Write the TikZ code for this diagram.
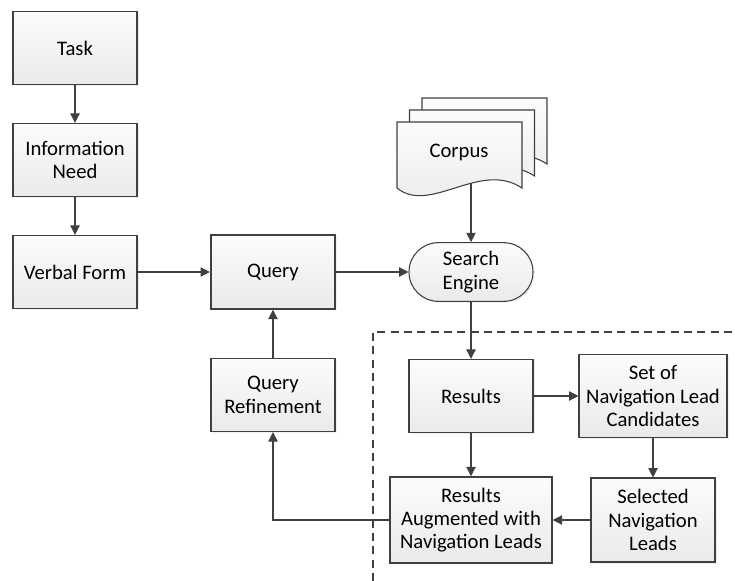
\documentclass[tikz,border=0pt]{standalone}
\usepackage{fontspec}
\setmainfont{Carlito}
\usetikzlibrary{arrows.meta, shadows}
\definecolor{linegray}{RGB}{64, 64, 64}
\definecolor{boxgray}{RGB}{234, 234, 234}
\definecolor{boxtop}{RGB}{252, 252, 252}

\tikzset{
  procbox/.style={draw=linegray, line width=0.8pt, top color=boxtop, bottom color=boxgray,
    align=center, minimum width=93pt, minimum height=55pt, inner sep=2pt,
    drop shadow={opacity=0.12, shadow xshift=1.2pt, shadow yshift=-1.2pt}},
  keybox/.style={procbox, line width=1.6pt},
  flow/.style={draw=linegray, line width=0.8pt, -{Triangle[length=7pt, width=7pt]}},
}

\begin{document}
\begin{tikzpicture}[x=0.75pt, y=-0.75pt, font=\fontsize{15.5}{17.5}\selectfont]
    \useasboundingbox (0,0) rectangle (735,581);

    % Left column: from task to verbal form
    \node[procbox] (task) at (75,48) {Task};
    \node[procbox] (need) at (75,160) {Information\\Need};
    \node[procbox] (verbal) at (75,272) {Verbal Form};

    % Query and its refinement
    \node[keybox] (query) at (273,272) {Query};
    \node[procbox] (refine) at (273,395) {Query\\Refinement};

    % Corpus: stack of documents
    \foreach \k in {2,1,0} {
        \draw[linegray, line width=0.8pt, top color=boxtop, bottom color=boxgray, shift={(12.5*\k,-12*\k)}]
            (397,122) -- (522,122) -- (522,188)
            .. controls (480,160) and (430,215) .. (397,188) -- cycle;
    }
    \node (corpus) at (459,152) {Corpus};
    \coordinate (corpusbot) at (471,183);

    % Search engine
    \node[procbox, rounded corners=22pt, minimum height=44pt] (engine) at (471,272) {Search\\Engine};

    % Dashed region
    \draw[linegray, line width=0.8pt, dash pattern=on 6pt off 4pt] (373,581) -- (373,332) -- (735,332);

    % Navigation lead part
    \node[procbox] (results) at (471,396) {Results};
    \node[procbox, minimum width=111pt, minimum height=62pt] (cands) at (653,396) {Set of\\Navigation Lead\\Candidates};
    \node[procbox, minimum height=63pt] (selected) at (653,520) {Selected\\Navigation\\Leads};
    \node[keybox, minimum width=121pt, minimum height=64pt] (augmented) at (471,520) {Results\\Augmented with\\Navigation Leads};

    % Connectors
    \draw[flow] (task) -- (need);
    \draw[flow] (need) -- (verbal);
    \draw[flow] (verbal) -- (query);
    \draw[flow] (query) -- (engine);
    \draw[flow] (corpusbot) -- (engine);
    \draw[flow] (engine) -- (results);
    \draw[flow] (results) -- (cands);
    \draw[flow] (cands) -- (selected);
    \draw[flow] (selected) -- (augmented);
    \draw[flow] (results) -- (augmented);
    \draw[flow] (augmented.west) -| (refine.south);
    \draw[flow] (refine) -- (query);
\end{tikzpicture}
\end{document}
